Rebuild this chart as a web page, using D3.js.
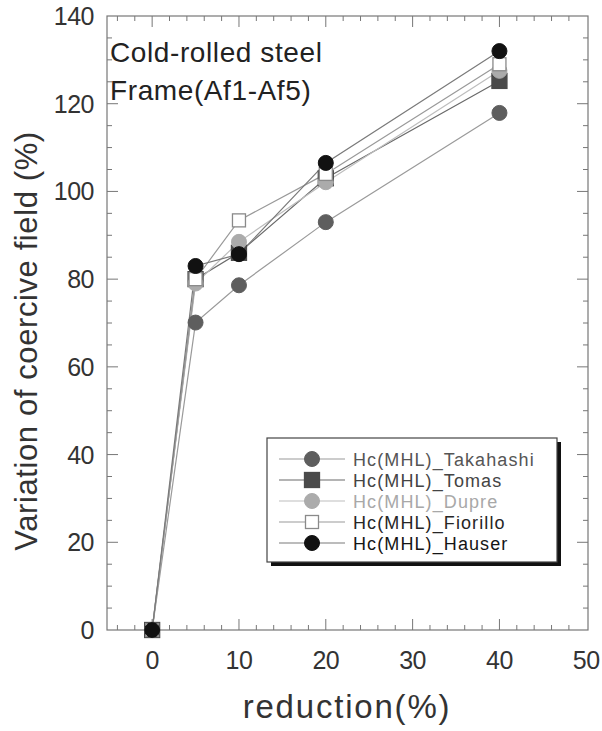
<!DOCTYPE html>
<html>
<head>
<meta charset="utf-8">
<script src="https://cdn.jsdelivr.net/npm/d3@7"></script>
<style>
  html, body { margin: 0; padding: 0; background: #fff; }
  svg { display: block; font-family: "Liberation Sans", Arial, sans-serif; }
</style>
</head>
<body>
<svg id="chart" width="602" height="731"></svg>
<script>
// Reduction levels (%) and coercive-field variation (%) for each model
const reduction = [0, 5, 10, 20, 40];
const takahashi = [0, 70.1, 78.6, 93.0, 117.9];
const tomas     = [0, 80.0, 86.0, 103.0, 125.2];
const dupre     = [0, 79.0, 88.5, 102.1, 127.5];
const fiorillo  = [0, 80.0, 93.4, 104.0, 129.0];
const hauser    = [0, 83.0, 85.7, 106.5, 132.0];

const seriesNames = ["Hc(MHL)_Takahashi", "Hc(MHL)_Tomas", "Hc(MHL)_Dupre", "Hc(MHL)_Fiorillo", "Hc(MHL)_Hauser"];
const xTicks = [0, 10, 20, 30, 40, 50];
const yTicks = [0, 20, 40, 60, 80, 100, 120, 140];

const series = [
  { name: seriesNames[0], values: takahashi, shape: "circle", fill: "#5e5e5e", stroke: "#5e5e5e", line: "#9a9a9a", text: "#555" },
  { name: seriesNames[1], values: tomas,     shape: "square", fill: "#4a4a4a", stroke: "#4a4a4a", line: "#6a6a6a", text: "#444" },
  { name: seriesNames[2], values: dupre,     shape: "circle", fill: "#ababab", stroke: "#ababab", line: "#bdbdbd", text: "#a8a8a8" },
  { name: seriesNames[3], values: fiorillo,  shape: "square", fill: "#ffffff", stroke: "#8a8a8a", line: "#999999", text: "#262626" },
  { name: seriesNames[4], values: hauser,    shape: "circle", fill: "#111111", stroke: "#111111", line: "#7a7a7a", text: "#151515" }
];

const svg = d3.select("#chart");
const plot = { left: 107, right: 588, top: 16, bottom: 630 };

const x = d3.scaleLinear().domain([-5.2, 50.2]).range([plot.left, plot.right]);
const y = d3.scaleLinear().domain([0, 140]).range([plot.bottom, plot.top]);

const axisColor = "#777";
const textColor = "#333";

// Frame
svg.append("rect")
  .attr("x", plot.left).attr("y", plot.top)
  .attr("width", plot.right - plot.left).attr("height", plot.bottom - plot.top)
  .attr("fill", "none").attr("stroke", axisColor).attr("stroke-width", 1.2);

// Inward ticks on all four sides
const xMinor = d3.range(-4, 51, 2).filter(v => v % 10 !== 0);
const yMinor = d3.range(5, 140, 5).filter(v => v % 20 !== 0);

function drawX(g, vals, len, yPos, dir) {
  g.selectAll(null).data(vals).enter().append("line")
    .attr("x1", d => x(d)).attr("x2", d => x(d))
    .attr("y1", yPos).attr("y2", yPos + dir * len)
    .attr("stroke", axisColor).attr("stroke-width", 1);
}
function drawY(g, vals, len, xPos, dir) {
  g.selectAll(null).data(vals).enter().append("line")
    .attr("y1", d => y(d)).attr("y2", d => y(d))
    .attr("x1", xPos).attr("x2", xPos + dir * len)
    .attr("stroke", axisColor).attr("stroke-width", 1);
}
const ticks = svg.append("g");
drawX(ticks, xTicks.filter(v => v < 50), 11, plot.bottom, -1);
drawX(ticks, xMinor, 5, plot.bottom, -1);
drawX(ticks, xTicks.filter(v => v < 50), 11, plot.top, 1);
drawX(ticks, xMinor, 5, plot.top, 1);
drawY(ticks, yTicks.filter(v => v > 0 && v < 140), 11, plot.left, 1);
drawY(ticks, yMinor, 5, plot.left, 1);
drawY(ticks, yTicks.filter(v => v > 0 && v < 140), 11, plot.right, -1);
drawY(ticks, yMinor, 5, plot.right, -1);

// Tick labels
svg.append("g").selectAll("text").data(xTicks).enter().append("text")
  .attr("x", d => x(d)).attr("y", 669)
  .attr("text-anchor", "middle").attr("font-size", 25).attr("fill", textColor)
  .attr("letter-spacing", -0.5)
  .text(d => d);
svg.append("g").selectAll("text").data(yTicks).enter().append("text")
  .attr("x", plot.left - 13).attr("y", d => y(d) + 9)
  .attr("text-anchor", "end").attr("font-size", 25).attr("fill", textColor)
  .attr("letter-spacing", -0.5)
  .text(d => d);

// Axis titles
svg.append("text")
  .attr("x", 347).attr("y", 718)
  .attr("text-anchor", "middle").attr("font-size", 33).attr("fill", textColor)
  .attr("letter-spacing", 1.8)
  .text("reduction(%)");
svg.append("text")
  .attr("transform", "translate(37,341) rotate(-90)")
  .attr("text-anchor", "middle").attr("font-size", 31).attr("fill", textColor)
  .attr("letter-spacing", 0.6)
  .text("Variation of coercive field (%)");

// Annotation
svg.append("text").attr("x", 110).attr("y", 62)
  .attr("font-size", 28).attr("fill", "#222").attr("letter-spacing", 0.6)
  .text("Cold-rolled steel");
svg.append("text").attr("x", 110).attr("y", 100)
  .attr("font-size", 28).attr("fill", "#222").attr("letter-spacing", 0.6)
  .text("Frame(Af1-Af5)");

// Lines and markers
const lineGen = d3.line().x((d, i) => x(reduction[i])).y(d => y(d));

function marker(g, s, cx, cy, size) {
  if (s.shape === "circle") {
    g.append("circle").attr("cx", cx).attr("cy", cy).attr("r", size / 2)
      .attr("fill", s.fill).attr("stroke", s.stroke).attr("stroke-width", 1);
  } else {
    const sz = s.fill === "#ffffff" ? size - 2 : size;
    g.append("rect").attr("x", cx - sz / 2).attr("y", cy - sz / 2)
      .attr("width", sz).attr("height", sz)
      .attr("fill", s.fill).attr("stroke", s.stroke).attr("stroke-width", 1.3);
  }
}

const marks = svg.append("g");
series.forEach(s => {
  marks.append("path").datum(s.values)
    .attr("d", lineGen).attr("fill", "none")
    .attr("stroke", s.line).attr("stroke-width", 1.2);
});
series.forEach(s => {
  s.values.forEach((v, i) => marker(marks, s, x(reduction[i]), y(v), 15));
});

// Legend with drop shadow
const lg = { x: 267, y: 438, w: 290, h: 124 };
svg.append("rect").attr("x", lg.x + 4).attr("y", lg.y + 4)
  .attr("width", lg.w).attr("height", lg.h).attr("fill", "#111");
svg.append("rect").attr("x", lg.x).attr("y", lg.y)
  .attr("width", lg.w).attr("height", lg.h)
  .attr("fill", "#fff").attr("stroke", "#444").attr("stroke-width", 1.2);

const legend = svg.append("g");
series.forEach((s, i) => {
  const ry = 459 + i * 21;
  legend.append("line").attr("x1", 279).attr("x2", 345).attr("y1", ry).attr("y2", ry)
    .attr("stroke", s.line).attr("stroke-width", 1.2);
  marker(legend, s, 312, ry, 15);
  legend.append("text").attr("x", 353).attr("y", ry + 7)
    .attr("font-size", 18).attr("fill", s.text).attr("letter-spacing", 1.1)
    .text(s.name);
});
</script>
</body>
</html>
